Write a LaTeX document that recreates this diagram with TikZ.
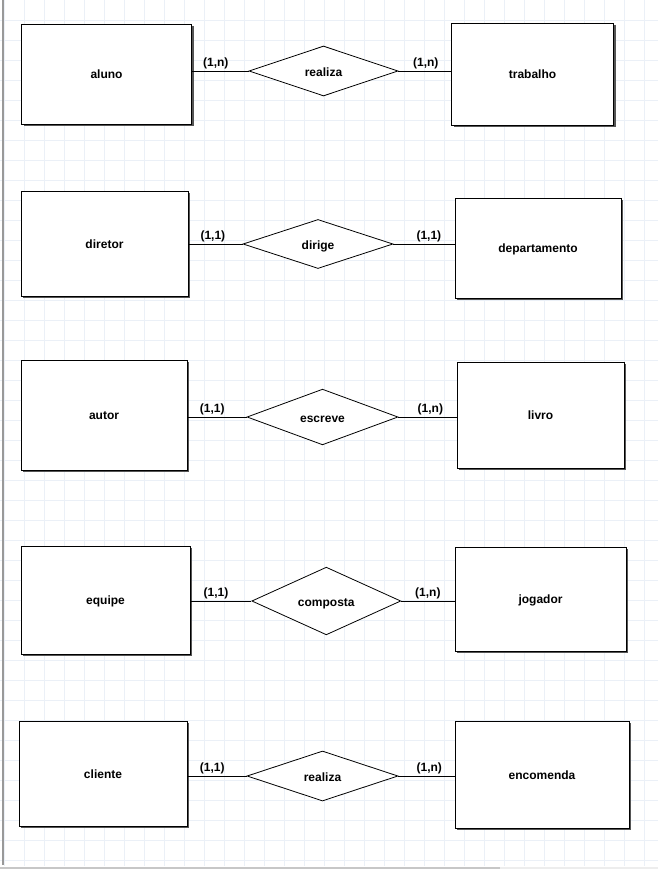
\documentclass[tikz,border=0pt]{standalone}
\usepackage{fontspec}
\setmainfont{Liberation Sans}
\usetikzlibrary{shapes.geometric,shadows}
\definecolor{gridc}{HTML}{EBF0F7}
\definecolor{shadowc}{HTML}{555555}
\tikzset{
  entity/.style={draw=black, line width=1pt, fill=white, inner sep=0pt,
    drop shadow={shadow xshift=2pt, shadow yshift=-2pt, fill=shadowc, opacity=1},
    font=\fontsize{12}{14}\selectfont\bfseries, text height=9pt, text depth=0pt},
  relation/.style={diamond, draw=black, line width=0.8pt, fill=white, inner sep=0pt,
    font=\fontsize{12}{14}\selectfont\bfseries, text height=11pt, text depth=0pt},
  link/.style={draw=black, line width=0.8pt},
  card/.style={font=\fontsize{12}{14}\selectfont\bfseries, inner sep=1.5pt, above}
}
\begin{document}
\begin{tikzpicture}[x=1pt,y=-1pt]
\useasboundingbox (0,0) rectangle (658,869);
\fill[white] (0,0) rectangle (658,869);
% grid
\foreach \gx in {4,24,...,658} \draw[gridc, line width=0.8pt] (\gx,0) -- (\gx,866);
\foreach \gy in {20,40,...,866} \draw[gridc, line width=0.8pt] (0,\gy) -- (658,\gy);
% frame
\draw[gray!80, line width=1.4pt] (3,0) -- (3,865);
\fill[black!22] (0,867) rectangle (500,869);
\fill[black!7] (500,867) rectangle (658,869);

% row 1
\node[entity, minimum width=170pt, minimum height=100pt] (aluno) at (106.5,74.5) {aluno};
\node[relation, minimum width=149pt, minimum height=50pt] (realiza1) at (323.5,71) {realiza};
\node[entity, minimum width=162pt, minimum height=102pt] (trabalho) at (532.5,74.5) {trabalho};
\draw[link] (realiza1.west -| aluno.east) -- node[card, pos=0.42] {(1,n)} (realiza1.west);
\draw[link] (realiza1.east) -- node[card, pos=0.52] {(1,n)} (realiza1.east -| trabalho.west);

% row 2
\node[entity, minimum width=167pt, minimum height=105pt] (diretor) at (104.5,243.5) {diretor};
\node[relation, minimum width=150pt, minimum height=49pt] (dirige) at (318,244) {dirige};
\node[entity, minimum width=166pt, minimum height=100pt] (departamento) at (538,248) {departamento};
\draw[link] (dirige.west -| diretor.east) -- node[card, pos=0.45] {(1,1)} (dirige.west);
\draw[link] (dirige.east) -- node[card, pos=0.58] {(1,1)} (dirige.east -| departamento.west);

% row 3
\node[entity, minimum width=166pt, minimum height=110pt] (autor) at (104,415) {autor};
\node[relation, minimum width=151pt, minimum height=50pt] (escreve) at (322.5,417) {escreve};
\node[entity, minimum width=167pt, minimum height=106pt] (livro) at (540.5,415) {livro};
\draw[link] (escreve.west -| autor.east) -- node[card, pos=0.42] {(1,1)} (escreve.west);
\draw[link] (escreve.east) -- node[card, pos=0.55] {(1,n)} (escreve.east -| livro.west);

% row 4
\node[entity, minimum width=169pt, minimum height=108pt] (equipe) at (105.5,600) {equipe};
\node[relation, minimum width=149pt, minimum height=50pt] (composta) at (326.3,601) {composta};
\node[entity, minimum width=171pt, minimum height=104pt] (jogador) at (540.5,599) {jogador};
\draw[link] (composta.west -| equipe.east) -- node[card, pos=0.42] {(1,1)} (composta.west);
\draw[link] (composta.east) -- node[card, pos=0.5] {(1,n)} (composta.east -| jogador.west);

% row 5
\node[entity, minimum width=168pt, minimum height=105pt] (cliente) at (103,773.5) {cliente};
\node[relation, minimum width=151pt, minimum height=50pt] (realiza2) at (322.5,776) {realiza};
\node[entity, minimum width=174pt, minimum height=107pt] (encomenda) at (542,774.5) {encomenda};
\draw[link] (realiza2.west -| cliente.east) -- node[card, pos=0.42] {(1,1)} (realiza2.west);
\draw[link] (realiza2.east) -- node[card, pos=0.55] {(1,n)} (realiza2.east -| encomenda.west);
\end{tikzpicture}
\end{document}
